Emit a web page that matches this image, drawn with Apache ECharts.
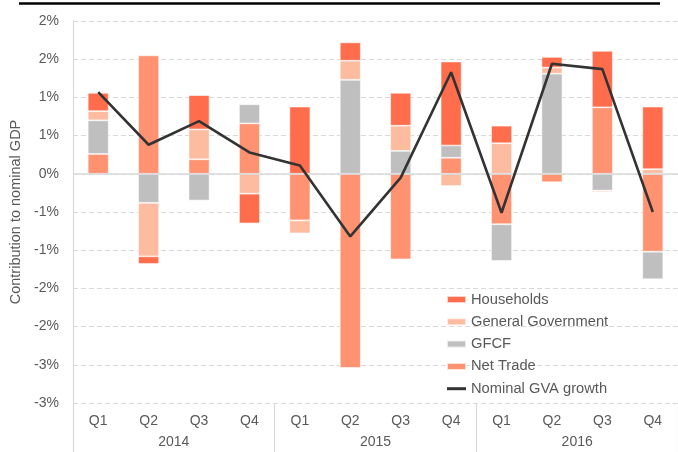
<!DOCTYPE html>
<html>
<head>
<meta charset="utf-8">
<script src="https://cdn.jsdelivr.net/npm/echarts@6/dist/echarts.min.js"></script>
<style>
  html, body { margin: 0; padding: 0; background: #fff; }
  #chart { width: 678px; height: 452px; }
</style>
</head>
<body>
<div id="chart"></div>
<script>
// quarters and years on the two-level category axis
var quarters = ['Q1', 'Q2', 'Q3', 'Q4', 'Q1', 'Q2', 'Q3', 'Q4', 'Q1', 'Q2', 'Q3', 'Q4'];
var years = ['2014', '2015', '2016'];

// contributions to nominal GDP growth, percentage points
var netTrade   = [0.26, 1.55, 0.19, 0.66, -0.61, -2.54, -1.12, 0.21, -0.66, -0.11, 0.87, -1.02];
var gfcf       = [0.44, -0.38, -0.35, 0.25, 0, 1.23, 0.30, 0.16, -0.48, 1.31, -0.22, -0.36];
var generalGov = [0.12, -0.70, 0.39, -0.26, -0.17, 0.25, 0.33, -0.16, 0.40, 0.08, -0.02, 0.06];
var households = [0.24, -0.10, 0.45, -0.39, 0.88, 0.24, 0.43, 1.10, 0.23, 0.14, 0.74, 0.82];
var gvaGrowth  = [1.07, 0.38, 0.69, 0.28, 0.11, -0.82, -0.05, 1.33, -0.51, 1.44, 1.37, -0.50];

var font = 'Liberation Sans, Arial, sans-serif';
var textColor = '#595959';
var gridColor = '#d9d9d9';

var myChart = echarts.init(document.getElementById('chart'));

// style shared by all the stacked bars
function barSeries(name, data, color) {
    return {
        name: name,
        type: 'bar',
        stack: 'total',
        barWidth: 21,
        itemStyle: {
            color: color,
            borderColor: 'rgba(255,255,255,0.7)',
            borderWidth: 0.8
        },
        data: data
    };
}

var netTradeSeries = barSeries('Net Trade', netTrade, '#ff9270');
// solid line at zero, the rest of the grid is dashed
netTradeSeries.markLine = {
    silent: true,
    symbol: 'none',
    label: { show: false },
    lineStyle: { color: gridColor, type: 'solid', width: 1.5 },
    data: [{ yAxis: 0 }]
};

var option = {
    animation: false,
    backgroundColor: '#fff',
    textStyle: { fontFamily: font },
    grid: { left: 68, right: -6, top: 21, bottom: 49 },
    graphic: [{
        type: 'line',
        shape: { x1: 19, y1: 3.5, x2: 660, y2: 3.5 },
        style: { stroke: '#000', lineWidth: 2.5 }
    }],
    legend: {
        orient: 'vertical',
        left: 441,
        top: 287,
        itemWidth: 19,
        itemHeight: 7,
        itemGap: 7.3,
        textStyle: { color: textColor, fontSize: 14.7, fontFamily: font },
        data: [
            { name: 'Households', icon: 'rect' },
            { name: 'General Government', icon: 'rect' },
            { name: 'GFCF', icon: 'rect' },
            { name: 'Net Trade', icon: 'rect' },
            { name: 'Nominal GVA growth', icon: 'path://M0,0L19,0L19,3L0,3Z' }
        ]
    },
    xAxis: [
        {
            type: 'category',
            data: quarters,
            axisLine: { show: false },
            axisTick: { show: false },
            axisLabel: { interval: 0, margin: 11, color: textColor, fontSize: 14, fontFamily: font }
        },
        {
            type: 'category',
            data: years,
            position: 'bottom',
            axisLine: { show: false },
            axisTick: { show: true, length: 49, lineStyle: { color: gridColor, width: 1.2 } },
            axisLabel: { margin: 32, color: textColor, fontSize: 14, fontFamily: font }
        }
    ],
    yAxis: {
        type: 'value',
        min: -3,
        max: 2,
        interval: 0.5,
        name: 'Contribution to nominal GDP',
        nameLocation: 'middle',
        nameGap: 50,
        nameTextStyle: { color: textColor, fontSize: 14.5, fontFamily: font },
        axisLine: { show: true, lineStyle: { color: gridColor, width: 1.2 } },
        axisTick: { show: false },
        axisLabel: {
            margin: 14,
            color: textColor,
            fontSize: 14,
            fontFamily: font,
            formatter: function (v) {
                // Excel style rounding of the half-point ticks
                var r = Math.sign(v) * Math.round(Math.abs(v));
                return r + '%';
            }
        },
        splitLine: { lineStyle: { color: gridColor, type: [5, 3], width: 1 } }
    },
    series: [
        netTradeSeries,
        barSeries('GFCF', gfcf, '#bfbfbf'),
        barSeries('General Government', generalGov, '#fdbba0'),
        barSeries('Households', households, '#ff6d4d'),
        {
            name: 'Nominal GVA growth',
            type: 'line',
            symbol: 'none',
            z: 10,
            lineStyle: { color: '#333333', width: 2.6 },
            itemStyle: { color: '#333333' },
            data: gvaGrowth
        }
    ]
};

myChart.setOption(option);
</script>
</body>
</html>
